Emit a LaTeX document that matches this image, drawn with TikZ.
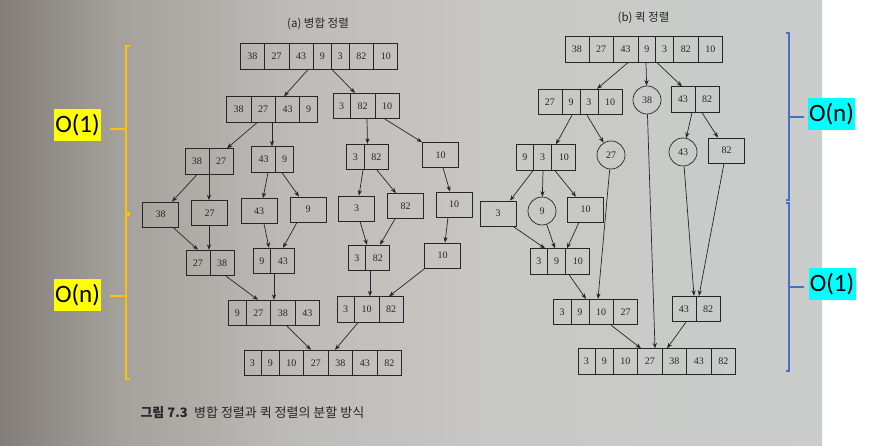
\documentclass[tikz,border=0pt]{standalone}
\usepackage{fontspec}
\setmainfont{Liberation Serif}
\newfontfamily\kr{Noto Sans CJK KR}
\newfontfamily\labfont{Carlito}
\usetikzlibrary{arrows.meta}
\definecolor{ink}{HTML}{262626}
\definecolor{bgA}{RGB}{130,125,120}
\definecolor{bgB}{RGB}{165,161,156}
\definecolor{bgC}{RGB}{190,188,185}
\definecolor{bgD}{RGB}{200,200,198}
\definecolor{bgE}{RGB}{202,205,204}
\definecolor{brOrange}{HTML}{FFC000}
\definecolor{brBlue}{HTML}{4472C4}
\definecolor{hlYellow}{HTML}{FFFF00}
\definecolor{hlCyan}{HTML}{00FFFF}
\pgfdeclarehorizontalshading{pagebg}{100bp}{color(0bp)=(bgA); color(25bp)=(bgA); color(32.3bp)=(bgB); color(43.2bp)=(bgC); color(55.4bp)=(bgD); color(75bp)=(bgE); color(100bp)=(bgE)}
\newcommand\Cl[1]{\setbox0\hbox{#1}\ifdim\wd0>7pt\makebox[23.8pt]{\raisebox{-3.4pt}{#1}}\else\makebox[17.2pt]{\raisebox{-3.4pt}{#1}}\fi}
\newcommand\Vr{\vrule width .65pt height 12.8pt depth 12.8pt}
\tikzset{
  arr/.style={draw=ink, line width=0.7pt, inner sep=0pt, text=ink, font=\fontsize{10}{12}\selectfont},
  one/.style={arr, minimum width=36pt, minimum height=25pt},
  circ/.style={draw=ink, circle, line width=0.7pt, minimum size=28pt, inner sep=0pt, text=ink, font=\fontsize{10}{12}\selectfont},
  edge/.style={draw=ink, line width=0.7pt, -{Stealth[length=5.5pt,width=4.2pt]}},
  ttl/.style={text=ink, font=\kr\fontsize{11.5}{14}\selectfont, inner sep=0pt},
  lab/.style={inner sep=0pt, minimum width=47pt, minimum height=32pt, text=black, font=\labfont\fontsize{25}{30}\selectfont},
  bro/.style={draw=brOrange, line width=2.4pt, line join=miter},
  brb/.style={draw=brBlue, line width=2.2pt, line join=miter}
}
\begin{document}
\begin{tikzpicture}[x=1pt,y=-1pt]
\useasboundingbox (0,0) rectangle (870,446);
\fill[white] (0,0) rectangle (870,446);
\shade[shading=pagebg] (0,0) rectangle (822,446);

% ---------- (a) merge sort ----------
\node[ttl] (ta) at (318,24) {(a) 병합 정렬};
\node[arr] (A0) at (319,56.5) {\Cl{38}\Vr\Cl{27}\Vr\Cl{43}\Vr\Cl{9}\Vr\Cl{3}\Vr\Cl{82}\Vr\Cl{10}};
\node[arr] (A1L) at (272,109.5) {\Cl{38}\Vr\Cl{27}\Vr\Cl{43}\Vr\Cl{9}};
\node[arr] (A1R) at (366,106) {\Cl{3}\Vr\Cl{82}\Vr\Cl{10}};
\node[arr] (A2a) at (209,161.5) {\Cl{38}\Vr\Cl{27}};
\node[arr] (A2b) at (272.5,159.5) {\Cl{43}\Vr\Cl{9}};
\node[arr] (A2c) at (367.5,157) {\Cl{3}\Vr\Cl{82}};
\node[one] (A2d) at (440.5,155) {10};
\node[one] (A3a) at (160.5,214.5) {38};
\node[one] (A3b) at (209.5,213) {27};
\node[one] (A3c) at (259,211) {43};
\node[one] (A3d) at (308,209.5) {9};
\node[one] (A3e) at (356.5,208.5) {3};
\node[one] (A3f) at (405.5,206) {82};
\node[one] (A3g) at (454,204.5) {10};
\node[arr] (A4a) at (210,263) {\Cl{27}\Vr\Cl{38}};
\node[arr] (A4b) at (274,261) {\Cl{9}\Vr\Cl{43}};
\node[arr] (A4c) at (369,258) {\Cl{3}\Vr\Cl{82}};
\node[one] (A4d) at (442.5,255.5) {10};
\node[arr] (A5a) at (274,313) {\Cl{9}\Vr\Cl{27}\Vr\Cl{38}\Vr\Cl{43}};
\node[arr] (A5b) at (370,309.5) {\Cl{3}\Vr\Cl{10}\Vr\Cl{82}};
\node[arr] (A6) at (322.5,363) {\Cl{3}\Vr\Cl{9}\Vr\Cl{10}\Vr\Cl{27}\Vr\Cl{38}\Vr\Cl{43}\Vr\Cl{82}};

\draw[edge] ([xshift=-11pt]A0.south) -- ([xshift=12pt]A1L.north);
\draw[edge] ([xshift=13pt]A0.south) -- ([xshift=-11pt]A1R.north);
\draw[edge] ([xshift=-15pt]A1L.south) -- ([xshift=18pt]A2a.north);
\draw[edge] ([xshift=0pt]A1L.south) -- ([xshift=-0.5pt]A2b.north);
\draw[edge] ([xshift=1pt]A1R.south) -- ([xshift=0pt]A2c.north);
\draw[edge] ([xshift=19pt]A1R.south) -- ([xshift=-18.5pt]A2d.north);
\draw[edge] ([xshift=-12pt]A2a.south) -- ([xshift=11.5pt]A3a.north);
\draw[edge] ([xshift=0pt]A2a.south) -- ([xshift=-0.5pt]A3b.north);
\draw[edge] ([xshift=-4.5pt]A2b.south) -- ([xshift=4pt]A3c.north);
\draw[edge] ([xshift=9.5pt]A2b.south) -- ([xshift=-9pt]A3d.north);
\draw[edge] ([xshift=-4.5pt]A2c.south) -- ([xshift=2.5pt]A3e.north);
\draw[edge] ([xshift=9.5pt]A2c.south) -- ([xshift=-9.5pt]A3f.north);
\draw[edge] ([xshift=2.5pt]A2d.south) -- ([xshift=-4pt]A3g.north);
\draw[edge] ([xshift=12.5pt]A3a.south) -- ([xshift=-12pt]A4a.north);
\draw[edge] ([xshift=-0.5pt]A3b.south) -- ([xshift=-1pt]A4a.north);
\draw[edge] ([xshift=5pt]A3c.south) -- ([xshift=-5pt]A4b.north);
\draw[edge] ([xshift=-11pt]A3d.south) -- ([xshift=9pt]A4b.north);
\draw[edge] ([xshift=3.5pt]A3e.south) -- ([xshift=-2pt]A4c.north);
\draw[edge] ([xshift=-10.5pt]A3f.south) -- ([xshift=11pt]A4c.north);
\draw[edge] ([xshift=-6pt]A3g.south) -- ([xshift=2.5pt]A4d.north);
\draw[edge] ([xshift=16pt]A4a.south) -- ([xshift=-16pt]A5a.north);
\draw[edge] ([xshift=0pt]A4b.south) -- ([xshift=0pt]A5a.north);
\draw[edge] ([xshift=1pt]A4c.south) -- ([xshift=0pt]A5b.north);
\draw[edge] ([xshift=-17.5pt]A4d.south) -- ([xshift=19pt]A5b.north);
\draw[edge] ([xshift=13pt]A5a.south) -- ([xshift=-11.5pt]A6.north);
\draw[edge] ([xshift=-12pt]A5b.south) -- ([xshift=12.5pt]A6.north);

% ---------- (b) quick sort ----------
\node[ttl] (tb) at (643.5,18) {(b) 퀵 정렬};
\node[arr] (B0) at (643.5,49.5) {\Cl{38}\Vr\Cl{27}\Vr\Cl{43}\Vr\Cl{9}\Vr\Cl{3}\Vr\Cl{82}\Vr\Cl{10}};
\node[arr] (B1a) at (580,102) {\Cl{27}\Vr\Cl{9}\Vr\Cl{3}\Vr\Cl{10}};
\node[circ] (B1b) at (647,100) {38};
\node[arr] (B1c) at (695,99.5) {\Cl{43}\Vr\Cl{82}};
\node[arr] (B2a) at (546,157.5) {\Cl{9}\Vr\Cl{3}\Vr\Cl{10}};
\node[circ] (B2b) at (611,155) {27};
\node[circ] (B2c) at (683,152) {43};
\node[one] (B2d) at (726.5,150.5) {82};
\node[one] (B3a) at (498,213.5) {3};
\node[circ] (B3b) at (542,211) {9};
\node[one] (B3c) at (585.5,209.5) {10};
\node[arr] (B4) at (560,261.5) {\Cl{3}\Vr\Cl{9}\Vr\Cl{10}};
\node[arr] (B5a) at (595.5,312) {\Cl{3}\Vr\Cl{9}\Vr\Cl{10}\Vr\Cl{27}};
\node[arr] (B5b) at (696,309) {\Cl{43}\Vr\Cl{82}};
\node[arr] (B6) at (656.5,361.5) {\Cl{3}\Vr\Cl{9}\Vr\Cl{10}\Vr\Cl{27}\Vr\Cl{38}\Vr\Cl{43}\Vr\Cl{82}};

\draw[edge] ([xshift=-15.5pt]B0.south) -- ([xshift=17pt]B1a.north);
\draw[edge] ([xshift=2.5pt]B0.south) -- (B1b);
\draw[edge] ([xshift=13.5pt]B0.south) -- ([xshift=-13pt]B1c.north);
\draw[edge] ([xshift=-8pt]B1a.south) -- ([xshift=10pt]B2a.north);
\draw[edge] ([xshift=7pt]B1a.south) -- (B2b);
\draw[edge] ([xshift=-3pt]B1c.south) -- (B2c);
\draw[edge] ([xshift=7pt]B1c.south) -- ([xshift=-8.5pt]B2d.north);
\draw[edge] ([xshift=-13pt]B2a.south) -- ([xshift=12pt]B3a.north);
\draw[edge] ([xshift=-3pt]B2a.south) -- (B3b);
\draw[edge] ([xshift=9pt]B2a.south) -- ([xshift=-9.5pt]B3c.north);
\draw[edge] ([xshift=15pt]B3a.south) -- ([xshift=-15pt]B4.north);
\draw[edge] (B3b) -- ([xshift=-5pt]B4.north);
\draw[edge] ([xshift=-6.5pt]B3c.south) -- ([xshift=7pt]B4.north);
\draw[edge] (B2b) -- ([xshift=2.5pt]B5a.north);
\draw[edge] (B1b) -- ([xshift=-1.5pt]B6.north);
\draw[edge] (B2c) -- ([xshift=-2pt]B5b.north);
\draw[edge] ([xshift=-2.5pt]B2d.south) -- ([xshift=3pt]B5b.north);
\draw[edge] ([xshift=9pt]B4.south) -- ([xshift=-9.5pt]B5a.north);
\draw[edge] ([xshift=15.5pt]B5a.south) -- ([xshift=-15.5pt]B6.north);
\draw[edge] ([xshift=-10pt]B5b.south) -- ([xshift=10.5pt]B6.north);

% ---------- caption ----------
\node[anchor=east, inner sep=0pt, text=ink, font=\kr\bfseries\fontsize{13}{15}\selectfont] (cap1) at (188,413) {그림 7.3};
\node[anchor=west, inner sep=0pt, text=ink, font=\kr\fontsize{13}{15}\selectfont] (cap2) at (194,413) {병합 정렬과 퀵 정렬의 분할 방식};

% ---------- annotations ----------
\draw[bro] (130,46) -- (126,46) -- (126,213) -- (130,213);
\draw[bro] (126,129) -- (110,129);
\draw[bro] (130,215) -- (126,215) -- (126,379) -- (130,379);
\draw[bro] (126,296) -- (110,296);
\node[lab, fill=hlYellow] (L1) at (77.5,125.5) {O(1)};
\node[lab, fill=hlYellow] (L2) at (77.5,295) {O(n)};

\draw[brb] (786,33) -- (789,33) -- (789,200) -- (786,200);
\draw[brb] (789,117) -- (804,117);
\draw[brb] (786,203) -- (789,203) -- (789,371) -- (786,371);
\draw[brb] (789,287) -- (804,287);
\node[lab, fill=hlCyan] (R1) at (831.5,114.5) {O(n)};
\node[lab, fill=hlCyan] (R2) at (832,284) {O(1)};
\end{tikzpicture}
\end{document}
